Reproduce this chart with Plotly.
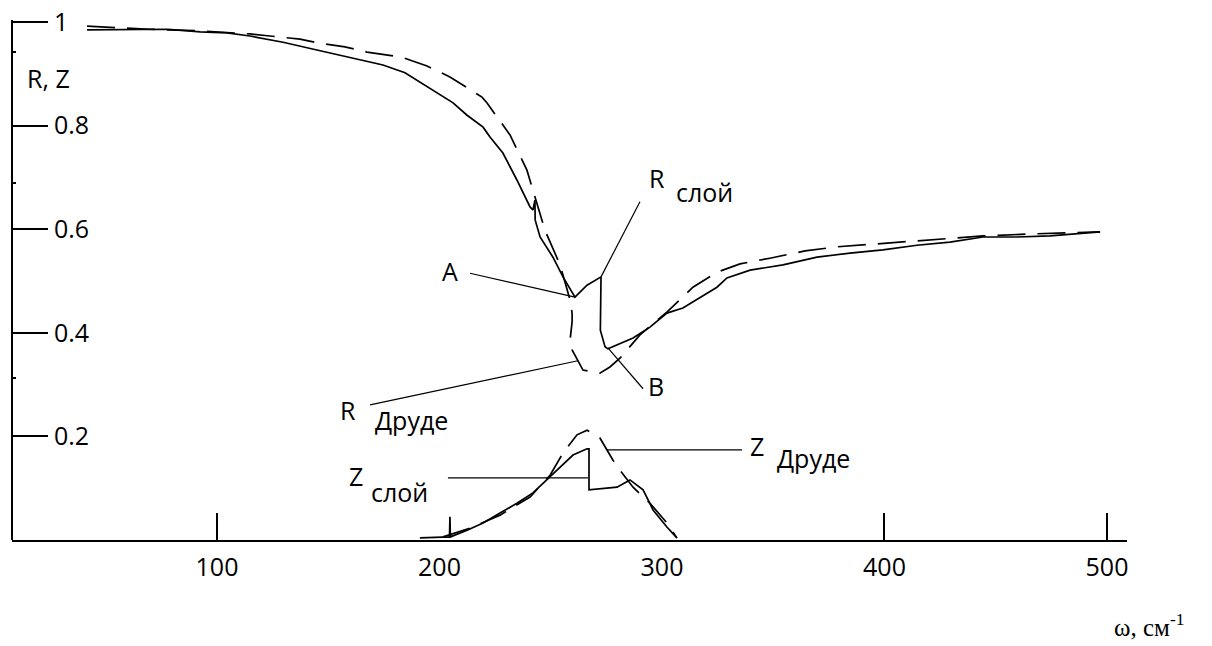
import plotly.graph_objects as go

# Wavenumber (cm^-1) and reflectance / Z values for each curve
r_layer_x = [41.6, 60.9, 78.0, 92.4, 104.5, 114.8, 129.7, 144.9, 159.8, 174.6, 184.5, 192.1,
             198.9, 206.1, 212.4, 219.6, 222.7, 228.5, 234.8, 240.7, 242.0, 242.9, 243.0,
             245.2, 251.0, 255.5, 260.9, 266.3, 272.6, 272.4, 272.3, 274.4, 275.7, 287.0,
             294.6, 302.2, 309.4, 324.7, 329.2, 339.6, 354.4, 369.7, 384.5, 399.3, 414.6,
             429.4, 444.3, 459.6, 474.4, 496.9]
r_layer_y = [0.985, 0.986, 0.986, 0.981, 0.979, 0.973, 0.961, 0.946, 0.932, 0.917, 0.902, 0.882,
             0.863, 0.844, 0.820, 0.797, 0.778, 0.747, 0.695, 0.643, 0.637, 0.656, 0.618,
             0.585, 0.546, 0.508, 0.469, 0.492, 0.508, 0.458, 0.405, 0.373, 0.369, 0.390,
             0.411, 0.438, 0.448, 0.488, 0.506, 0.521, 0.531, 0.546, 0.554, 0.560, 0.569,
             0.575, 0.585, 0.585, 0.587, 0.595]

r_drude_x = [41.6, 69.9, 92.4, 114.8, 123.8, 137.3, 146.3, 157.5, 167.4, 183.1, 194.4,
             204.7, 219.1, 221.3, 231.7, 239.3, 247.4, 254.2, 258.7, 259.6, 259.6, 258.7,
             259.6, 264.5, 272.1, 276.6, 281.1, 290.1, 302.2, 313.9, 324.7, 335.1, 348.5,
             364.3, 378.7, 399.3, 417.3, 432.6, 444.3, 466.7, 496.9]
r_drude_y = [0.992, 0.986, 0.983, 0.977, 0.973, 0.967, 0.959, 0.952, 0.942, 0.932, 0.915,
             0.894, 0.855, 0.844, 0.782, 0.714, 0.598, 0.531, 0.463, 0.438, 0.421, 0.386,
             0.367, 0.328, 0.322, 0.334, 0.351, 0.396, 0.440, 0.488, 0.517, 0.533, 0.544,
             0.558, 0.566, 0.573, 0.579, 0.583, 0.587, 0.591, 0.595]

z_layer_x = [191.2, 202.5, 204.5, 204.7, 204.9, 212.4, 219.6, 227.2, 234.8, 242.0, 248.3,
             254.2, 260.0, 266.3, 267.2, 267.2, 279.8, 285.6, 291.5, 296.0, 302.2, 306.7]
z_layer_y = [0.004, 0.006, 0.006, 0.045, 0.006, 0.019, 0.033, 0.052, 0.071, 0.091, 0.116,
             0.141, 0.164, 0.176, 0.176, 0.097, 0.102, 0.116, 0.097, 0.058, 0.025, 0.004]

z_drude_x = [201.6, 213.7, 227.2, 240.7, 249.7, 255.5, 261.8, 266.3, 272.1, 278.0, 281.1,
             287.0, 294.6, 302.2, 306.7]
z_drude_y = [0.006, 0.023, 0.048, 0.083, 0.125, 0.168, 0.203, 0.212, 0.197, 0.154, 0.135,
             0.102, 0.071, 0.033, 0.004]

x_ticks = [100, 200, 300, 400, 500]
x_marked_ticks = [100, 400, 500]
y_ticks = [0.2, 0.4, 0.6, 0.8, 1]
y_tick_text = ["0.2", "0.4", "0.6", "0.8", "1"]
y_minor_ticks = [0.313, 0.689, 0.942]

X_RANGE = [7.87, 509.0]
Y_RANGE = [0, 1.0425]   # a little headroom above 1 so the top tick label stays visible
Y_AXIS_TOP = 1.004
FONT = "Open Sans"
FS = 25
TEXT_COLOR = "#000000"

fig = go.Figure()

solid = dict(color="black", width=1.7)
dashed = dict(color="black", width=1.7, dash="28px,12px")

fig.add_trace(go.Scatter(x=r_layer_x, y=r_layer_y, mode="lines", line=solid,
                         name="R слой", showlegend=False))
fig.add_trace(go.Scatter(x=r_drude_x, y=r_drude_y, mode="lines", line=dashed,
                         name="R Друде", showlegend=False, xaxis="x2", yaxis="y2"))
fig.add_trace(go.Scatter(x=z_layer_x, y=z_layer_y, mode="lines", line=solid,
                         name="Z слой", showlegend=False))
fig.add_trace(go.Scatter(x=z_drude_x, y=z_drude_y, mode="lines", line=dashed,
                         name="Z Друде", showlegend=False, xaxis="x2", yaxis="y2"))

# Vertical axis line, stopping at the top tick
fig.add_shape(type="line", x0=0, x1=0, y0=0, y1=Y_AXIS_TOP, xref="paper", yref="y",
              line=dict(color="black", width=2))

# Leader lines from the labels to the curves
leaders = [
    ((213.7, 0.515), (260.9, 0.469)),   # A
    ((290.1, 0.653), (272.6, 0.508)),   # R слой
    ((275.7, 0.371), (291.5, 0.292)),   # B
    ((168.8, 0.261), (262.2, 0.346)),   # R Друде
    ((203.8, 0.120), (266.7, 0.120)),   # Z слой
    ((275.3, 0.174), (336.0, 0.174)),   # Z Друде
]
for (x0, y0), (x1, y1) in leaders:
    fig.add_shape(type="line", x0=x0, y0=y0, x1=x1, y1=y1, xref="x", yref="y",
                  line=dict(color="black", width=1.2))

labels = [
    ("A", 204.7, 0.519),
    ("R", 297.8, 0.699),
    ("слой", 318.9, 0.672),
    ("B", 297.3, 0.297),
    ("R", 158.9, 0.251),
    ("Друде", 187.2, 0.232),
    ("Z", 162.5, 0.124),
    ("слой", 182.2, 0.093),
    ("Z", 342.7, 0.181),
    ("Друде", 367.9, 0.158),
    ("R, Z", 24.3, 0.892),
]
for text, x, y in labels:
    fig.add_annotation(text=text, x=x, y=y, xref="x", yref="y", showarrow=False,
                       xanchor="center", yanchor="middle",
                       font=dict(family=FONT, size=FS, color=TEXT_COLOR))

# Frequency axis title in the lower right corner
fig.add_annotation(text="ω, см<sup>-1</sup>", x=0.9875, y=-0.158, xref="paper", yref="paper",
                   showarrow=False, xanchor="left", yanchor="middle", borderpad=0,
                   font=dict(family="Liberation Serif", size=25, color="black"))

fig.update_layout(
    width=1212, height=646,
    margin=dict(l=12, r=85, t=0, b=106),
    paper_bgcolor="white", plot_bgcolor="white",
    xaxis=dict(range=X_RANGE, tickvals=x_ticks, ticks="", showgrid=False, zeroline=False,
               showline=True, linecolor="black", linewidth=2,
               tickfont=dict(family=FONT, size=FS, color=TEXT_COLOR), ticklabelstandoff=4),
    xaxis2=dict(range=X_RANGE, overlaying="x", side="bottom", tickvals=x_marked_ticks,
                ticks="inside", ticklen=27, tickwidth=2, tickcolor="black",
                showticklabels=False, showgrid=False, zeroline=False, showline=False),
    yaxis=dict(range=Y_RANGE, tickvals=y_ticks, ticktext=y_tick_text, ticks="inside",
               ticklen=36, tickwidth=2, tickcolor="black", ticklabelposition="inside",
               ticklabelstandoff=8, showgrid=False, zeroline=False, showline=False,
               tickfont=dict(family=FONT, size=FS, color=TEXT_COLOR)),
    yaxis2=dict(range=Y_RANGE, overlaying="y", side="left", tickvals=y_minor_ticks,
                ticks="inside", ticklen=4, tickwidth=2, tickcolor="black",
                showticklabels=False, showgrid=False, zeroline=False, showline=False),
)

fig.write_html("out.html")
